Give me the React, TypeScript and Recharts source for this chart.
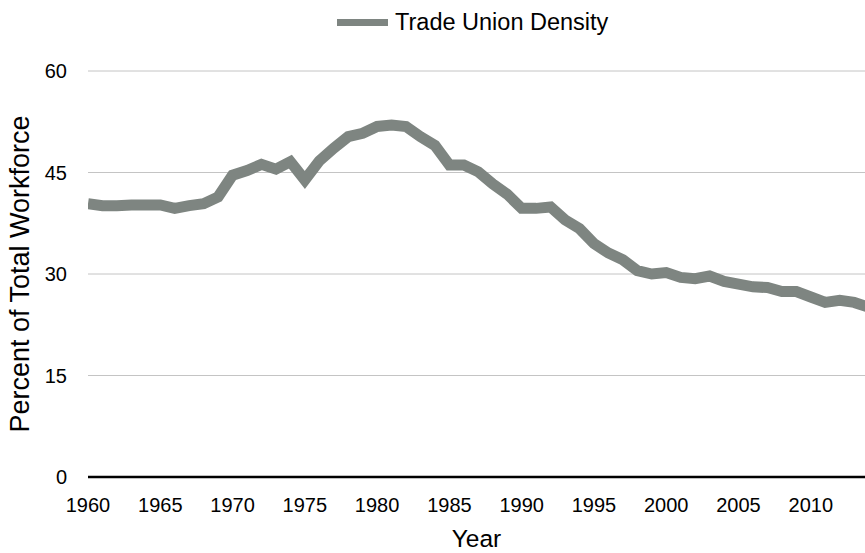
import { LineChart, Line, XAxis, YAxis, CartesianGrid, Legend, Label } from 'recharts'

const years = [
  1960, 1961, 1962, 1963, 1964, 1965, 1966, 1967, 1968, 1969,
  1970, 1971, 1972, 1973, 1974, 1975, 1976, 1977, 1978, 1979,
  1980, 1981, 1982, 1983, 1984, 1985, 1986, 1987, 1988, 1989,
  1990, 1991, 1992, 1993, 1994, 1995, 1996, 1997, 1998, 1999,
  2000, 2001, 2002, 2003, 2004, 2005, 2006, 2007, 2008, 2009,
  2010, 2011, 2012, 2013, 2014,
]

const density = [
  40.4, 40.1, 40.1, 40.2, 40.2, 40.2, 39.7, 40.1, 40.4, 41.4,
  44.6, 45.3, 46.2, 45.5, 46.6, 43.9, 46.7, 48.6, 50.3, 50.8,
  51.8, 52.0, 51.8, 50.3, 49.0, 46.1, 46.1, 45.1, 43.3, 41.8,
  39.7, 39.7, 39.9, 38.0, 36.7, 34.5, 33.1, 32.1, 30.5, 30.0,
  30.2, 29.5, 29.3, 29.7, 28.9, 28.5, 28.1, 28.0, 27.4, 27.4,
  26.6, 25.8, 26.1, 25.8, 25.1,
]

const xTicks = [1960, 1965, 1970, 1975, 1980, 1985, 1990, 1995, 2000, 2005, 2010]
const yTicks = [0, 15, 30, 45, 60]

const seriesName = 'Trade Union Density'
const lineColor = '#7e8581'
const font = '"Liberation Sans", Arial, Helvetica, sans-serif'

const data = years.map((year, i) => ({ year, density: density[i] }))

function LegendContent() {
  return (
    <div style={{ height: 40, display: 'flex', alignItems: 'center', fontFamily: font }}>
      <span style={{ display: 'inline-block', width: 51, height: 7, background: lineColor, marginRight: 7 }} />
      <span style={{ fontSize: 23.5, color: '#000', lineHeight: '40px' }}>{seriesName}</span>
    </div>
  )
}

export default function App() {
  return (
    <div style={{ position: 'absolute', left: 0, top: 0, fontFamily: font }}>
      <LineChart width={865} height={553} data={data} margin={{ top: 31, right: 0, bottom: 0, left: 0 }}>
        <CartesianGrid vertical={false} stroke="#c4c4c4" strokeWidth={1} />
        <Legend
          verticalAlign="top"
          content={<LegendContent />}
          wrapperStyle={{ left: 337, top: 2, width: 290, height: 40 }}
        />
        <XAxis
          dataKey="year"
          type="number"
          domain={[1960, 2013.75]}
          allowDataOverflow
          ticks={xTicks}
          height={76}
          tickLine={false}
          tickSize={0}
          tickMargin={21}
          axisLine={{ stroke: '#000', strokeWidth: 2.7 }}
          tick={{ fill: '#000', fontSize: 20, fontFamily: font }}
        >
          <Label value="Year" position="insideBottom" offset={6} fontSize={24.5} fill="#000" fontFamily={font} />
        </XAxis>
        <YAxis
          domain={[0, 60]}
          ticks={yTicks}
          width={88}
          axisLine={false}
          tickLine={false}
          tickSize={0}
          tickMargin={21}
          tick={{ fill: '#000', fontSize: 20, fontFamily: font }}
        >
          <Label
            value="Percent of Total Workforce"
            angle={-90}
            position="insideLeft"
            offset={19}
            fontSize={27}
            fill="#000"
            fontFamily={font}
            style={{ textAnchor: 'middle' }}
          />
        </YAxis>
        <Line
          type="linear"
          dataKey="density"
          name={seriesName}
          stroke={lineColor}
          strokeWidth={11}
          dot={false}
          activeDot={false}
          isAnimationActive={false}
        />
      </LineChart>
    </div>
  )
}
